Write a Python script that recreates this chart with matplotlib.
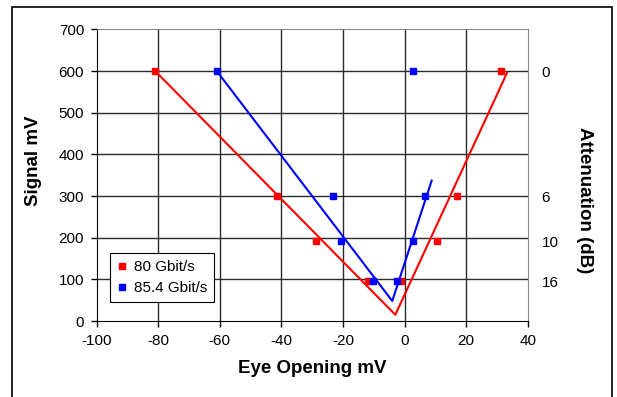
import matplotlib.pyplot as plt
from matplotlib.patches import Rectangle

plt.rcParams['font.family'] = ['Liberation Sans', 'DejaVu Sans']
plt.rcParams['axes.unicode_minus'] = False

# measured points (eye opening mV, signal mV)
red_x = [-81, -41.3, -28.7, -12, -1.3, 10.4, 16.9, 31.4]
red_y = [600, 300, 192, 96, 96, 192, 300, 600]
blue_x = [-61, -23.3, -20.6, -10.3, -2.6, 2.7, 6.6, 2.8]
blue_y = [600, 300, 192, 96, 96, 192, 300, 600]

# fitted V lines
red_fit_x = [-81, -3, 33.3]
red_fit_y = [600, 15, 596]
blue_fit_x = [-61, -4, 8.8]
blue_fit_y = [600, 48, 337]

atten_pos = [600, 300, 190, 95]
atten_labels = ['0', '6', '10', '16']

fig = plt.figure(figsize=(6.17, 3.97), dpi=100)
ax = fig.add_axes([0.1567, 0.1914, 0.6986, 0.7346])

for v in range(-80, 40, 20):
    ax.axvline(v, color='#2a2a2a', lw=1, zorder=1)
for h in range(100, 700, 100):
    ax.axhline(h, color='#2a2a2a', lw=1, zorder=1)

ax.plot(red_x, red_y, 's', color='red', ms=4.5, label='80 Gbit/s', zorder=3)
ax.plot(blue_x, blue_y, 's', color='blue', ms=4.5, label='85.4 Gbit/s', zorder=3)
ax.plot(red_fit_x, red_fit_y, color='red', lw=1.5, zorder=2)
ax.plot(blue_fit_x, blue_fit_y, color='blue', lw=1.5, zorder=2)

ax.set_xlim(-100, 40)
ax.set_ylim(0, 700)
ax.set_xticks(range(-100, 41, 20))
ax.set_yticks(range(0, 701, 100))
ax.tick_params(labelsize=11, length=4, width=1, color='black', pad=5)
ax.spines['top'].set_color('#888888')
ax.spines['right'].set_color('#888888')
ax.spines['left'].set_color('black')
ax.spines['bottom'].set_color('black')
ax.set_xlabel('Eye Opening mV', fontsize=13.5, fontweight='bold', labelpad=9)

ax2 = ax.twinx()
ax2.set_ylim(0, 700)
ax2.set_yticks(atten_pos)
ax2.set_yticklabels(atten_labels)
ax2.tick_params(axis='y', length=0, labelsize=11, pad=10)
for s in ax2.spines.values():
    s.set_visible(False)

fig.text(0.054, 0.595, 'Signal mV', rotation=90, fontsize=13.5, fontweight='bold',
         ha='center', va='center')
fig.text(0.948, 0.495, 'Attenuation (dB)', rotation=-90, fontsize=13.5, fontweight='bold',
         ha='center', va='center')

leg = ax.legend(loc='lower left', bbox_to_anchor=(0.031, 0.065), borderaxespad=0,
                fontsize=11, frameon=True, fancybox=False, edgecolor='black',
                framealpha=1, handlelength=0.6, handletextpad=0.5, borderpad=0.45,
                labelspacing=0.45, markerscale=1.0)
leg.get_frame().set_linewidth(0.8)
leg.set_zorder(5)

fig.patches.append(Rectangle((0.0194, -0.05), 0.9725, 1.032, transform=fig.transFigure,
                             fill=False, edgecolor='black', lw=1.2))

fig.savefig('out.png', dpi=100)
